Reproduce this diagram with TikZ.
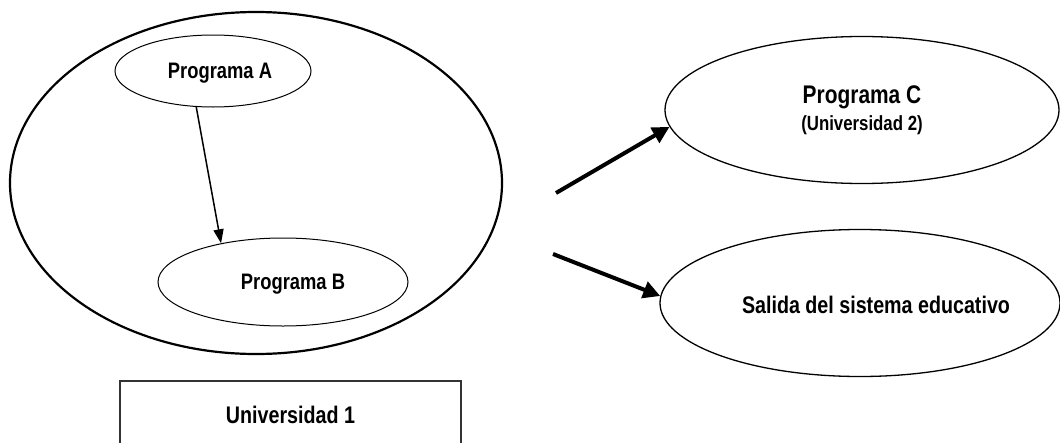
\documentclass[tikz,border=0pt]{standalone}
\usepackage{fontspec}
\setmainfont{Liberation Sans}[FakeStretch=0.82]
\usepackage{tikz}
\usetikzlibrary{arrows.meta,shapes}

\tikzset{
  oval/.style={draw,ellipse,inner sep=0pt,line width=1pt},
  txt/.style={font=\bfseries\fontsize{22.4}{26}\selectfont,inner sep=0pt},
  bigarrow/.style={-{Triangle[length=17pt,width=17pt]},line width=4pt},
}

\begin{document}
\begin{tikzpicture}[x=1pt,y=-1pt]
\useasboundingbox (0,0) rectangle (1060,442);
\clip (0,0) rectangle (1060,442);
% Universidad 1
\node (uni) at (256,183)[oval,line width=2.2pt,minimum width=492,minimum height=342] {};
\node (progA) at (213,71)[oval,minimum width=196,minimum height=72] {};
\node (progAT) at (220,73)[txt] {Programa A};
\node (progB) at (283,282)[oval,minimum width=250,minimum height=88] {};
\node (progBT) at (293,284)[txt] {Programa B};
\draw [-{Triangle[length=14pt,width=10pt]},line width=1.5pt] (progA.245) -- (progB.148);
% salidas
\node (progC) at (862,110)[oval,line width=1.3pt,minimum width=394,minimum height=147,align=center,
  font=\bfseries\fontsize{20.5}{27}\selectfont]
  {{\fontsize{25.5}{30}\selectfont Programa C}\\(Universidad 2)};
\node (salida) at (860,303)[oval,line width=1.3pt,minimum width=400,minimum height=147] {};
\node (salidaT) at (876,305)[txt,font=\bfseries\fontsize{24}{28}\selectfont] {Salida del sistema educativo};
\coordinate (outC) at (556,193);
\coordinate (outS) at (553,254);
\draw [bigarrow] (outC) -- (progC.185);
\draw [bigarrow] (outS) -- (salida.178);
% caja
\node (uniBox) at (290.5,415)[draw,line width=2pt,draw=black!80,minimum width=341,minimum height=69,
  font=\bfseries\fontsize{24}{28}\selectfont] {Universidad 1};
\end{tikzpicture}
\end{document}
